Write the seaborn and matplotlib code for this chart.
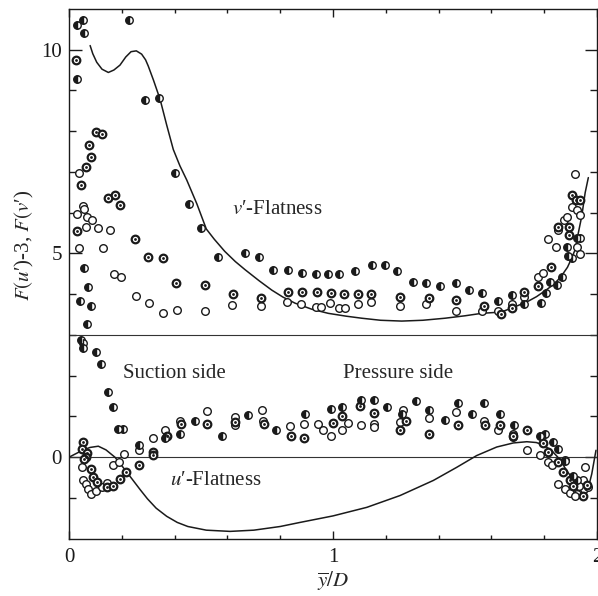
import matplotlib
matplotlib.use("Agg")
import matplotlib.pyplot as plt
import numpy as np
import seaborn as sns

sns.set_theme(style="ticks")
plt.rcParams["font.family"] = ["Liberation Serif", "DejaVu Serif"]
plt.rcParams["mathtext.fontset"] = "stix"
plt.rcParams["font.size"] = 15

# --- curves (v' flatness, u' flatness - 3) ---
v_curve_x = [0.08, 0.09, 0.105, 0.125, 0.149, 0.17, 0.193, 0.215, 0.235, 0.255, 0.275, 0.29,
             0.30, 0.32, 0.345, 0.37, 0.395, 0.42, 0.446, 0.484, 0.52, 0.55, 0.59, 0.63,
             0.667, 0.72, 0.768, 0.81, 0.856, 0.92, 0.982, 1.05, 1.109, 1.18, 1.26, 1.34,
             1.424, 1.50, 1.563, 1.61, 1.645, 1.70, 1.74, 1.771, 1.80, 1.834, 1.855, 1.873,
             1.888, 1.898, 1.917, 1.929, 1.942, 1.955, 1.967]
v_curve_y = [10.1, 9.9, 9.69, 9.52, 9.44, 9.5, 9.62, 9.82, 9.95, 9.97, 9.89, 9.75,
             9.6, 9.25, 8.78, 8.15, 7.55, 7.15, 6.8, 6.22, 5.6, 5.35, 5.05, 4.8,
             4.6, 4.33, 4.1, 3.93, 3.78, 3.63, 3.53, 3.46, 3.41, 3.36, 3.34, 3.36,
             3.41, 3.47, 3.53, 3.55, 3.58, 3.72, 3.83, 3.94, 4.07, 4.23, 4.37, 4.52,
             4.66, 4.8, 5.09, 5.5, 5.91, 6.49, 6.86]

u_curve_x = [0.0, 0.03, 0.054, 0.08, 0.111, 0.14, 0.174, 0.205, 0.237, 0.27, 0.297, 0.33,
             0.37, 0.41, 0.45, 0.52, 0.61, 0.70, 0.80, 0.875, 1.0, 1.128, 1.254, 1.38,
             1.468, 1.544, 1.62, 1.683, 1.734, 1.77, 1.80, 1.83, 1.86, 1.885, 1.91, 1.936,
             1.955, 1.965, 1.98, 1.996]
u_curve_y = [0.0, 0.1, 0.18, 0.24, 0.27, 0.18, 0.0, -0.25, -0.52, -0.8, -1.02, -1.25,
             -1.45, -1.6, -1.7, -1.79, -1.82, -1.79, -1.7, -1.6, -1.44, -1.23, -0.94, -0.57,
             -0.25, 0.04, 0.25, 0.35, 0.38, 0.36, 0.29, 0.15, -0.06, -0.33, -0.55, -0.74,
             -0.85, -0.8, -0.41, 0.17]

# --- v' flatness points ---
vh_x = [0.032, 0.052, 0.058, 0.228, 0.029, 0.289, 0.342, 0.40, 0.455, 0.50, 0.058, 0.072,
        0.042, 0.082, 0.069, 0.563, 0.667, 0.721, 0.774, 0.828, 0.884, 0.934, 0.98, 1.023,
        1.083, 1.146, 1.197, 1.241, 1.304, 1.351, 1.405, 1.465, 1.515, 1.563, 1.626, 1.677,
        1.725, 1.787, 1.807, 1.822, 1.847, 1.866, 1.891, 1.904, 1.885, 1.923, 1.936]
vh_y = [10.61, 10.72, 10.42, 10.72, 9.28, 8.77, 8.82, 6.98, 6.22, 5.63, 4.64, 4.17,
        3.84, 3.72, 3.26, 4.91, 5.02, 4.91, 4.60, 4.60, 4.53, 4.50, 4.50, 4.50,
        4.56, 4.72, 4.72, 4.58, 4.31, 4.27, 4.20, 4.27, 4.11, 4.02, 3.84, 3.98,
        3.76, 3.79, 4.04, 4.29, 4.23, 4.43, 4.94, 4.89, 5.15, 5.39, 5.39]

vb_x = [0.025, 0.101, 0.124, 0.075, 0.083, 0.064, 0.044, 0.149, 0.175, 0.193, 0.032, 0.249,
        0.299, 0.355, 0.406, 0.515, 0.622, 0.727, 0.831, 0.884, 0.939, 0.992, 1.043, 1.093,
        1.144, 1.254, 1.365, 1.465, 1.573, 1.635, 1.677, 1.725, 1.778, 1.825, 1.854, 1.895,
        1.895, 1.906, 1.92, 1.936]
vb_y = [9.75, 7.97, 7.92, 7.66, 7.37, 7.12, 6.68, 6.37, 6.44, 6.18, 5.56, 5.35,
        4.91, 4.89, 4.28, 4.23, 4.01, 3.90, 4.06, 4.06, 4.06, 4.04, 4.01, 4.01,
        4.01, 3.94, 3.90, 3.86, 3.71, 3.51, 3.66, 4.06, 4.19, 4.66, 5.65, 5.65,
        5.46, 6.43, 6.31, 6.31]

vo_x = [0.039, 0.054, 0.029, 0.057, 0.069, 0.086, 0.064, 0.111, 0.155, 0.039, 0.13, 0.17,
        0.197, 0.253, 0.302, 0.357, 0.408, 0.515, 0.619, 0.726, 0.825, 0.879, 0.934, 0.955,
        0.989, 1.023, 1.045, 1.093, 1.144, 1.254, 1.351, 1.466, 1.563, 1.626, 1.677, 1.725,
        1.778, 1.797, 1.816, 1.844, 1.854, 1.873, 1.885, 1.904, 1.925, 1.936, 1.923, 1.936,
        1.917]
vo_y = [6.98, 6.17, 5.97, 6.08, 5.90, 5.83, 5.64, 5.63, 5.58, 5.13, 5.13, 4.50,
        4.42, 3.96, 3.78, 3.53, 3.60, 3.59, 3.74, 3.70, 3.80, 3.76, 3.68, 3.68,
        3.78, 3.66, 3.66, 3.76, 3.80, 3.70, 3.76, 3.59, 3.59, 3.59, 3.76, 3.93,
        4.41, 4.52, 5.36, 5.16, 5.57, 5.81, 5.90, 6.14, 6.06, 5.94, 5.15, 4.99,
        6.96]

# --- u' flatness - 3 points ---
uh_x = [0.044, 0.054, 0.052, 0.101, 0.121, 0.149, 0.166, 0.187, 0.206, 0.266, 0.364, 0.42,
        0.477, 0.578, 0.679, 0.784, 0.894, 0.992, 1.033, 1.105, 1.154, 1.205, 1.262, 1.313,
        1.364, 1.424, 1.475, 1.525, 1.573, 1.633, 1.687, 1.784, 1.803, 1.835, 1.854, 1.879,
        1.91, 1.923]
uh_y = [2.87, 2.79, 2.69, 2.59, 2.28, 1.60, 1.22, 0.70, 0.70, 0.29, 0.47, 0.57,
        0.90, 0.51, 1.03, 0.66, 1.05, 1.19, 1.23, 1.41, 1.41, 1.23, 1.07, 1.38,
        1.17, 0.92, 1.33, 1.05, 1.33, 1.07, 0.80, 0.51, 0.58, 0.37, 0.21, -0.10,
        -0.45, -0.57]

ub_x = [0.054, 0.048, 0.069, 0.064, 0.057, 0.082, 0.09, 0.105, 0.145, 0.168, 0.193, 0.216,
        0.266, 0.317, 0.317, 0.37, 0.424, 0.524, 0.629, 0.74, 0.84, 0.891, 0.999, 1.033,
        1.102, 1.154, 1.254, 1.275, 1.365, 1.475, 1.576, 1.633, 1.683, 1.734, 1.797, 1.816,
        1.854, 1.872, 1.898, 1.910, 1.961, 1.945]
ub_y = [0.37, 0.21, 0.10, 0.0, -0.05, -0.30, -0.49, -0.60, -0.74, -0.71, -0.53, -0.37,
        -0.19, 0.12, 0.05, 0.53, 0.82, 0.82, 0.86, 0.81, 0.52, 0.48, 0.84, 1.01,
        1.25, 1.08, 0.67, 0.90, 0.58, 0.78, 0.80, 0.80, 0.51, 0.66, 0.35, 0.12,
        -0.12, -0.37, -0.57, -0.70, -0.67, -0.94]

uo_x = [0.048, 0.054, 0.064, 0.073, 0.082, 0.101, 0.124, 0.145, 0.168, 0.191, 0.208, 0.266,
        0.317, 0.364, 0.42, 0.524, 0.629, 0.629, 0.732, 0.736, 0.837, 0.891, 0.944, 0.963,
        0.992, 1.033, 1.055, 1.105, 1.154, 1.154, 1.254, 1.266, 1.365, 1.465, 1.573, 1.624,
        1.683, 1.683, 1.734, 1.784, 1.816, 1.828, 1.879, 1.854, 1.879, 1.898, 1.923, 1.917,
        1.955, 1.946, 1.949, 1.93, 1.967]
uo_y = [-0.25, -0.56, -0.66, -0.78, -0.90, -0.84, -0.74, -0.64, -0.20, -0.12, 0.07, 0.17,
        0.48, 0.67, 0.90, 1.13, 0.99, 0.78, 1.15, 0.88, 0.76, 0.82, 0.82, 0.66,
        0.53, 0.66, 0.84, 0.80, 0.82, 0.74, 0.86, 1.17, 0.95, 1.11, 0.90, 0.66,
        0.58, 0.49, 0.17, 0.06, -0.12, -0.20, -0.08, -0.66, -0.78, -0.89, -0.90, -0.94,
        -0.23, -0.57, -0.78, -0.70, -0.72]

half_x = vh_x + uh_x
half_y = vh_y + uh_y
bull_x = vb_x + ub_x
bull_y = vb_y + ub_y
open_x = vo_x + uo_x
open_y = vo_y + uo_y

fig = plt.figure(figsize=(5.98, 5.96), dpi=100)
ax = fig.add_axes([0.1154, 0.0961, 0.883, 0.889])

ax.axhline(3, color="#333333", lw=0.8, zorder=1)
ax.axhline(0, color="#333333", lw=0.8, zorder=1)

sns.lineplot(x=v_curve_x, y=v_curve_y, sort=False, estimator=None, color="k", lw=1.1, ax=ax, zorder=2)
sns.lineplot(x=u_curve_x, y=u_curve_y, sort=False, estimator=None, color="k", lw=1.1, ax=ax, zorder=2)

# open circles
sns.scatterplot(x=open_x, y=open_y, marker="o", s=30, facecolor="white",
                edgecolor="k", linewidth=1.0, ax=ax, zorder=3)
# bullseye circles
sns.scatterplot(x=bull_x, y=bull_y, marker="o", s=30, facecolor="white",
                edgecolor="k", linewidth=1.6, ax=ax, zorder=3)
sns.scatterplot(x=bull_x, y=bull_y, marker="o", s=4, color="k",
                edgecolor="k", linewidth=0, ax=ax, zorder=4)
# half-filled circles
ax.plot(half_x, half_y, ls="none", marker="o", ms=5.4, fillstyle="left",
        mfc="k", mfcalt="white", mec="k", mew=1.0, zorder=3)

ax.text(0.616, 6.08, "$v$′-Flatness", va="center", ha="left")
ax.text(0.203, 2.05, "Suction side", va="center", ha="left")
ax.text(1.037, 2.05, "Pressure side", va="center", ha="left")
ax.text(0.383, -0.57, "$u$′-Flatness", va="center", ha="left")

ax.set_xlim(0, 2)
ax.set_ylim(-2, 11)
ax.set_xticks([0, 1, 2])
ax.set_xticks(np.arange(0, 2.01, 0.2), minor=True)
ax.set_yticks([0, 5, 10])
ax.set_yticks(np.arange(-1, 11, 1), minor=True)
ax.tick_params(which="both", direction="in", top=True, right=True, width=1.0,
               labelsize=15, colors="k")
ax.tick_params(axis="x", which="major", length=5.5, pad=7)
ax.tick_params(axis="x", which="minor", length=3)
ax.tick_params(axis="y", which="major", length=9, pad=5)
ax.tick_params(axis="y", which="minor", length=5)
for sp in ax.spines.values():
    sp.set_linewidth(1.0)
    sp.set_color("k")

ax.set_xlabel(r"$\overline{y}/D$", fontsize=15)
ax.set_ylabel("$F(u$′)-3, $F(v$′)", fontsize=15)
ax.xaxis.set_label_coords(0.5, -0.058)
ax.yaxis.set_label_coords(-0.063, 0.553)

fig.savefig("out.png", dpi=100)
